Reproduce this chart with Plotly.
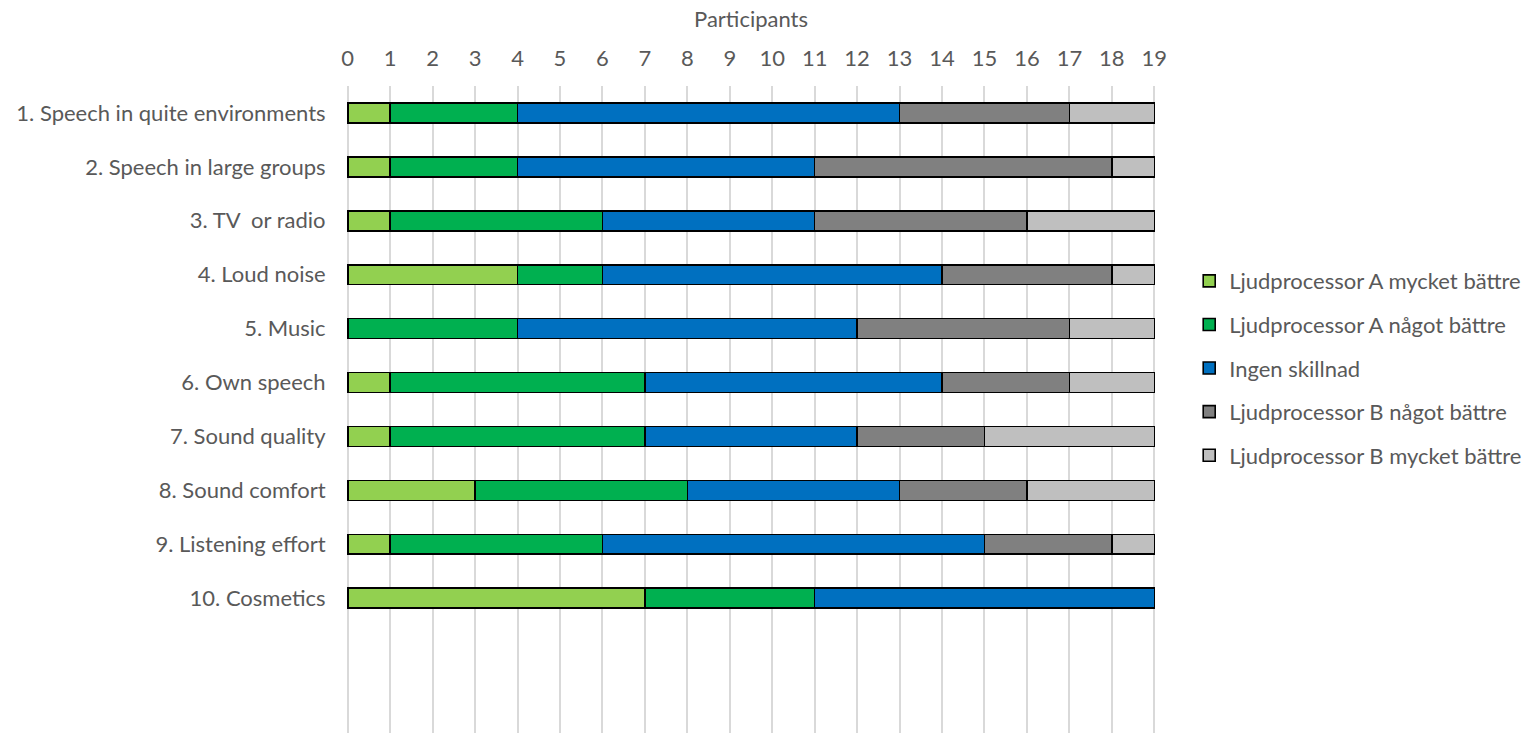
import plotly.graph_objects as go

categories = [
    "1. Speech in quite environments",
    "2. Speech in large groups",
    "3. TV  or radio",
    "4. Loud noise",
    "5. Music",
    "6. Own speech",
    "7. Sound quality",
    "8. Sound comfort",
    "9. Listening effort",
    "10. Cosmetics",
]

series_names = [
    "Ljudprocessor A mycket bättre",
    "Ljudprocessor A något bättre",
    "Ingen skillnad",
    "Ljudprocessor B något bättre",
    "Ljudprocessor B mycket bättre",
]

a_much_better = [1, 1, 1, 4, 0, 1, 1, 3, 1, 7]
a_somewhat_better = [3, 3, 5, 2, 4, 6, 6, 5, 5, 4]
no_difference = [9, 7, 5, 8, 8, 7, 5, 5, 9, 8]
b_somewhat_better = [4, 7, 5, 4, 5, 3, 3, 3, 3, 0]
b_much_better = [2, 1, 3, 1, 2, 2, 4, 3, 1, 0]

x_ticks = list(range(0, 20))

colors = ["#92D050", "#00B050", "#0070C0", "#808080", "#BFBFBF"]
series_values = [a_much_better, a_somewhat_better, no_difference,
                 b_somewhat_better, b_much_better]

FONT = "Lato, 'Open Sans', sans-serif"
TEXT = "#595959"
SIZE = 22

rows = list(range(len(categories)))

fig = go.Figure()
for name, vals, col in zip(series_names, series_values, colors):
    fig.add_trace(go.Bar(
        y=rows,
        x=vals,
        name=name,
        orientation="h",
        width=0.37,
        marker=dict(color=col, line=dict(color="#000000", width=1.6)),
        legendgroup=name,
    ))

fig.update_layout(
    barmode="stack",
    width=1536,
    height=733,
    paper_bgcolor="white",
    plot_bgcolor="white",
    margin=dict(l=346, r=380, t=86, b=0),
    font=dict(family=FONT, size=SIZE, color=TEXT),
    showlegend=True,
    legend=dict(
        x=1.041, y=0.731, xanchor="left", yanchor="top",
        traceorder="grouped", tracegroupgap=12,
        font=dict(family=FONT, size=SIZE, color=TEXT),
        itemwidth=30,
    ),
    xaxis=dict(
        side="top",
        range=[-0.04, 19.04],
        tickmode="array",
        tickvals=x_ticks,
        ticktext=[str(v) for v in x_ticks],
        showgrid=True,
        gridcolor="#D9D9D9",
        gridwidth=1.5,
        zeroline=False,
        showline=False,
        ticks="outside",
        ticklen=10,
        tickcolor="rgba(0,0,0,0)",
        tickfont=dict(family=FONT, size=SIZE, color=TEXT),
        title=dict(text="Participants", standoff=10,
                   font=dict(family=FONT, size=SIZE, color=TEXT)),
        fixedrange=True,
    ),
    yaxis=dict(
        range=[11.5, -0.5],
        tickmode="array",
        tickvals=rows,
        ticktext=categories,
        showgrid=False,
        zeroline=False,
        showline=False,
        ticks="outside",
        ticklen=15,
        tickcolor="rgba(0,0,0,0)",
        tickfont=dict(family=FONT, size=SIZE, color=TEXT),
        fixedrange=True,
    ),
)

fig.write_html("out.html")
